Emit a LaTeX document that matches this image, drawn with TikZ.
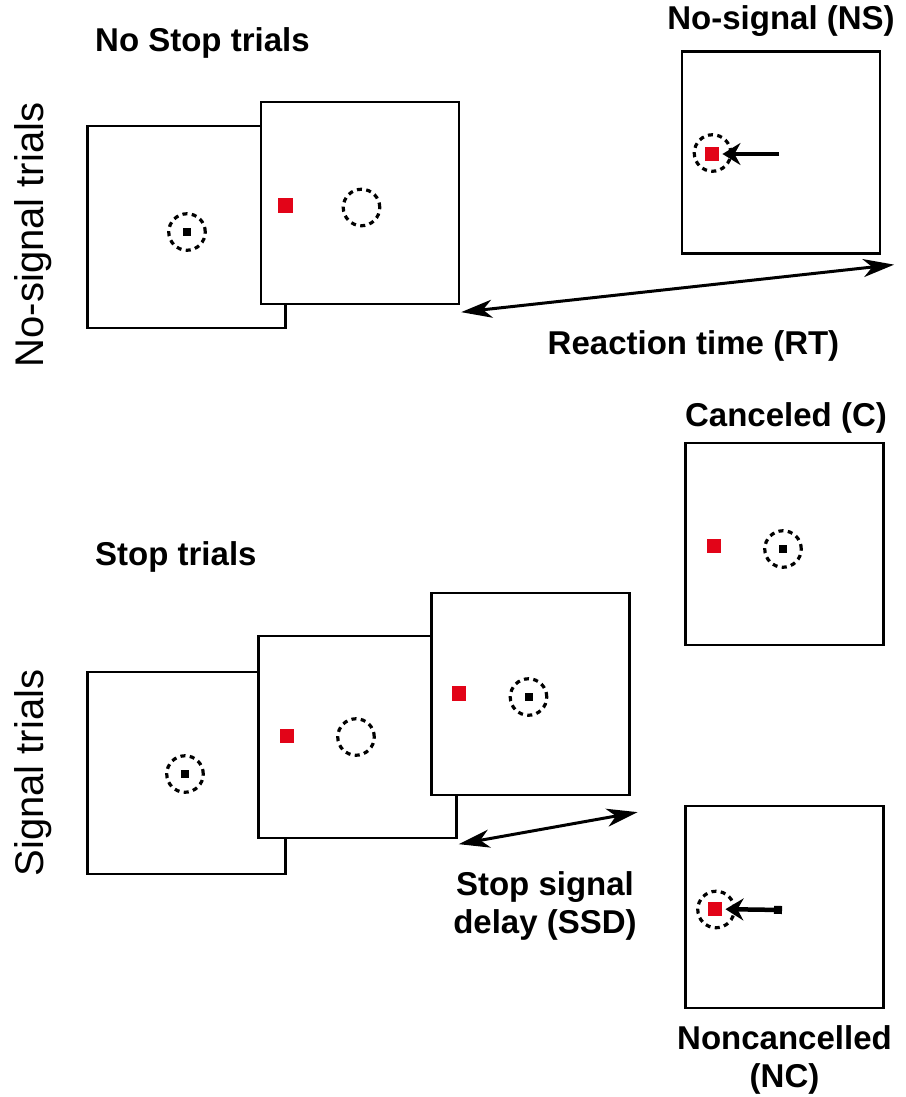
\documentclass[tikz,border=0pt]{standalone}
\usepackage{fontspec}
\setmainfont{Liberation Sans}
\usepackage{xcolor}
\usepackage{tikz}
\usetikzlibrary{calc, arrows, arrows.meta, positioning}
\definecolor{targetred}{RGB}{226,4,24}
\tikzset{
    screennode/.style = {draw, rectangle, fill=white, line width=2.3pt, inner sep=0pt,
      minimum width=198pt, minimum height=202pt},
    fixnode/.style = {draw, circle, line width=3.2pt, dash pattern=on 5pt off 4.4pt,
      inner sep=0pt, minimum size=36.5pt},
    dotnode/.style = {fill=black, rectangle, inner sep=0pt, minimum size=8pt},
    targetnode/.style = {fill=targetred, rectangle, inner sep=0pt, minimum size=14.5pt},
    boldnode/.style = {inner sep=0pt, font=\fontsize{33}{38}\selectfont\bfseries, align=center},
    sidenode/.style = {inner sep=0pt, font=\fontsize{40}{46}\selectfont, rotate=90, anchor=base},
    timeline/.style = {line width=3pt,
      {Stealth[length=31pt, width=18pt, inset=9pt]}-{Stealth[length=31pt, width=18pt, inset=9pt]}},
    saccade/.style = {line width=4.5pt, -{Stealth[length=18pt, width=22pt, inset=6pt]}, shorten >=3pt}
}

\begin{document}
\begin{tikzpicture}[x=1pt, y=-1pt]
    \useasboundingbox (0,0) rectangle (905,1097);

    % no-signal trials
    \node [sidenode, name=NoSignalTrials] at (43,235) {No-signal trials};
    \node [boldnode, anchor=base west, name=NoStop] at (95,52) {No Stop trials};

    \node [screennode, name=A1] at (186.5,227) {};
    \node [fixnode, name=A1fix] at (187,232) {};
    \node [dotnode] at (A1fix) {};
    \node [screennode, name=A2] at (360,203) {};
    \node [targetnode, name=A2target] at (285.5,205.5) {};
    \node [fixnode, name=A2fix] at (361.5,207.5) {};

    \node [screennode, name=NS] at (781,152.5) {};
    \node [boldnode, anchor=base, name=NSlabel] at ($(NS.north)+(0,-21)$) {No-signal (NS)};
    \node [fixnode, name=NSfix] at (712.5,153) {};
    \node [targetnode, name=NStarget] at (712,154) {};
    \coordinate (NStail) at ($(NStarget)+(67,0)$);
    \draw [saccade] (NStail) -- (NStarget);

    \coordinate (RTstart) at ($(A2.south east)+(1,7)$);
    \coordinate (RTend) at ($(NS.south east)+(13,10)$);
    \draw [timeline] (RTstart) -- (RTend);
    \node [boldnode, anchor=base, name=RT] at (693.5,354) {Reaction time (RT)};

    % signal trials
    \node [sidenode, name=SignalTrials] at (43,773) {Signal trials};
    \node [boldnode, anchor=base west, name=Stop] at (95,565) {Stop trials};

    \node [screennode, name=B1] at (186.5,773) {};
    \node [fixnode, name=B1fix] at (185,774) {};
    \node [dotnode] at (B1fix) {};
    \node [screennode, name=B2] at (357.5,737) {};
    \node [targetnode, name=B2target] at (287,736) {};
    \node [fixnode, name=B2fix] at (356,737) {};
    \node [screennode, name=B3] at (530.5,694) {};
    \node [targetnode, name=B3target] at (459,693.5) {};
    \node [fixnode, name=B3fix] at (528.5,697) {};
    \node [dotnode] at (B3fix) {};

    \coordinate (SSDstart) at ($(B2.south east)+(1,5)$);
    \coordinate (SSDend) at ($(B3.south east)+(7,16)$);
    \draw [timeline] (SSDstart) -- (SSDend);
    \node [boldnode, name=SSD] at (545,906) {Stop signal\\delay (SSD)};

    \node [screennode, name=C] at (784.5,544) {};
    \node [boldnode, anchor=base, name=Clabel] at ($(C.north)+(1.5,-15)$) {Canceled (C)};
    \node [targetnode, name=Ctarget] at (714,546) {};
    \node [fixnode, name=Cfix] at (783,549) {};
    \node [dotnode] at (Cfix) {};

    \node [screennode, name=NC] at (784.5,907) {};
    \node [boldnode, name=NClabel, below=16pt of NC] {Noncancelled\\(NC)};
    \node [fixnode, name=NCfix] at (716,909.5) {};
    \node [targetnode, name=NCtarget] at (715,909) {};
    \coordinate (NCtail) at ($(NCtarget)+(67,1)$);
    \draw [saccade, {Square[length=8pt, width=8pt]}-{Stealth[length=18pt, width=22pt, inset=6pt]}]
        (NCtail) -- (NCtarget);
\end{tikzpicture}
\end{document}
